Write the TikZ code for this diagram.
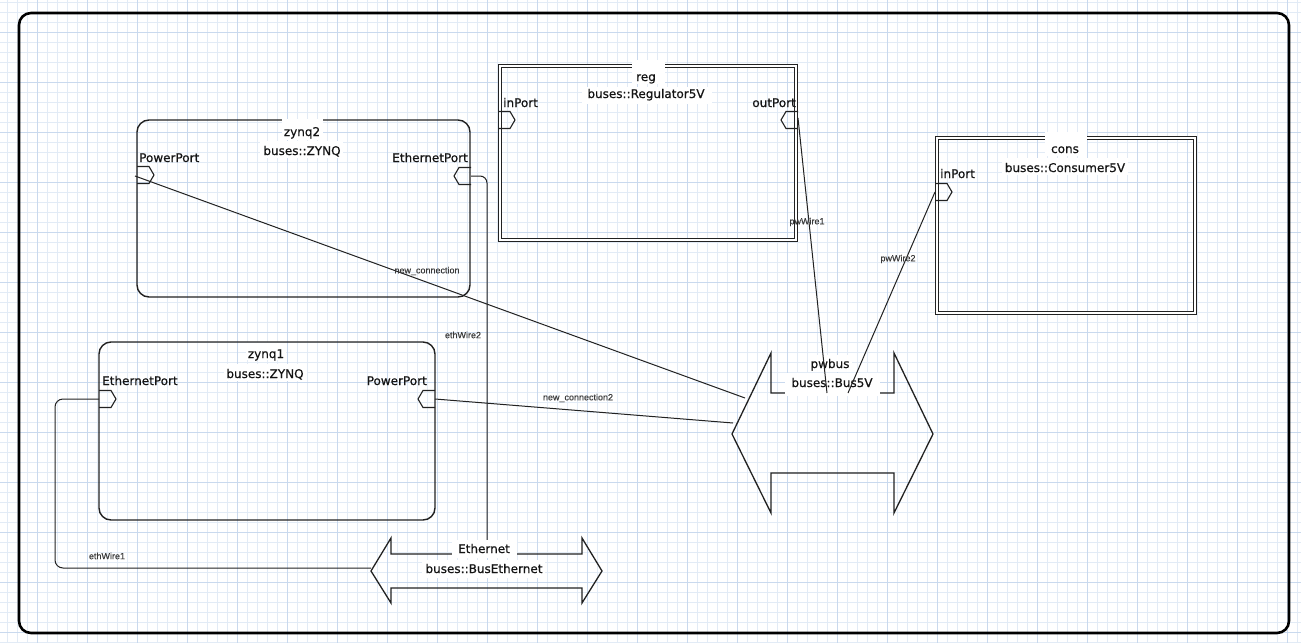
\documentclass[tikz,border=0pt]{standalone}
\usepackage{fontspec}
\setmainfont{DejaVu Sans}
\newfontfamily\titlefont{DejaVu Sans}[FakeBold=0.6]
\newfontfamily\wirefont{Liberation Sans}[FakeBold=0.3]
\definecolor{gridminor}{HTML}{E2EBF6}
\definecolor{gridmajor}{HTML}{C9D9EE}
\definecolor{ink}{HTML}{222222}
\definecolor{lblink}{HTML}{3A3A3A}
\begin{document}
\begin{tikzpicture}[x=1pt,y=-1pt,
  frame/.style={draw=black, line width=2.6pt, rounded corners=12pt},
  compbox/.style={draw=ink, line width=1.4pt, rounded corners=12pt, inner sep=0pt},
  dblbox/.style={draw=ink, line width=1.2pt, double=white, double distance=2.2pt, inner sep=0pt},
  busshape/.style={draw=ink, line width=1.3pt, line join=miter},
  wire/.style={draw=ink, line width=1pt},
  portline/.style={draw=ink, line width=1.1pt},
  titletxt/.style={font=\titlefont\fontsize{12}{14}\selectfont, text=black!92, inner sep=0pt, anchor=base},
  portwest/.style={font=\titlefont\fontsize{12}{14}\selectfont, text=black!92, inner sep=0pt, anchor=base west},
  porteast/.style={font=\titlefont\fontsize{12}{14}\selectfont, text=black!92, inner sep=0pt, anchor=base east},
  wirelbl/.style={font=\wirefont\fontsize{9}{10}\selectfont, text=lblink, inner sep=0pt},
  portr/.pic={\draw[portline] (0,-8.5) -- (12,-8.5) -- (17,0) -- (12,8.5) -- (0,8.5);},
  portl/.pic={\draw[portline] (0,-8.5) -- (-12,-8.5) -- (-17,0) -- (-12,8.5) -- (0,8.5);}
]
\useasboundingbox (0,0) rectangle (1301,643);
\fill[white] (0,0) rectangle (1301,643);
% grid
\foreach \x in {7,17,...,1297} \draw[gridminor, line width=0.8pt] (\x,0) -- (\x,643);
\foreach \y in {2,12,...,642} \draw[gridminor, line width=0.8pt] (0,\y) -- (1301,\y);
\foreach \x in {37,87,...,1287} \draw[gridmajor, line width=0.9pt] (\x,0) -- (\x,643);
\foreach \y in {32,82,...,632} \draw[gridmajor, line width=0.9pt] (0,\y) -- (1301,\y);
% frame
\draw[frame] (19,13) rectangle (1289,633);

% components
\node[dblbox, minimum width=296pt, minimum height=174pt] (reg) at (648,153) {};
\node[dblbox, minimum width=258pt, minimum height=175pt] (cons) at (1066,225.5) {};
\node[compbox, minimum width=333pt, minimum height=177pt] (zynq2) at (303.5,208.5) {};
\node[compbox, minimum width=336pt, minimum height=178pt] (zynq1) at (267,431) {};

% bus shapes
\draw[busshape] (771,473) -- (771,513) -- (732,434) -- (771,353) -- (771,393) -- (894,393) -- (894,353) -- (933,434) -- (894,513) -- (894,473) -- cycle;
\draw[busshape] (391,588) -- (391,603) -- (371,571) -- (391,538) -- (391,554) -- (582,554) -- (582,538) -- (602,571) -- (582,603) -- (582,588) -- cycle;

% ports
\pic at (498,120) {portr};
\pic at (798,120) {portl};
\pic at (137,175) {portr};
\pic at (471,176) {portl};
\pic at (99,399) {portr};
\pic at (435,399) {portl};
\pic at (935,192) {portr};

% connector end points
\coordinate (regout) at (798,118);
\coordinate (consin) at (935,192);
\coordinate (z2pp) at (135,176);
\coordinate (z2eth) at (471,176);
\coordinate (z1eth) at (99,399);
\coordinate (z1pp) at (435,399);
\coordinate (pwA) at (745,398);
\coordinate (pwB) at (733,423);
\coordinate (pwC) at (827,393);
\coordinate (pwD) at (848,393);
\coordinate (ethTop) at (487,554);
\coordinate (ethTip) at (371,568);

% wires drawn below titles
\draw[wire] (z2pp) -- (pwA);
\draw[wire] (z1pp) -- (pwB);
\draw[wire, rounded corners=7pt] (z2eth) -| (ethTop);
\draw[wire, rounded corners=8pt] (z1eth) -- (55,399) -- (55,568) -- (ethTip);

% title backgrounds
\fill[white] (632,60) rectangle (665,84);
\fill[white] (582,87) rectangle (712,104);
\fill[white] (282,119) rectangle (323,140);
\fill[white] (260,141) rectangle (343,158);
\fill[white] (246,343) rectangle (286,360);
\fill[white] (224,364) rectangle (307,381);
\fill[white] (1045,132) rectangle (1087,156);
\fill[white] (1002,158) rectangle (1128,175);
\fill[white] (808,355) rectangle (852,372);
\fill[white] (785,373) rectangle (880,396);
\fill[white] (452,540) rectangle (517,558);
\fill[white] (422,560) rectangle (545,578);

% titles
\node[titletxt] (regname) at (646,81) {reg};
\node[titletxt] (regtype) at (646,98) {buses::Regulator5V};
\node[portwest] (regin) at (503,107) {inPort};
\node[porteast] (regoutl) at (796,107) {outPort};

\node[titletxt] (z2name) at (302,136) {zynq2};
\node[titletxt] (z2type) at (302,155) {buses::ZYNQ};
\node[portwest] (z2ppl) at (139,162) {PowerPort};
\node[porteast] (z2ethl) at (468,162) {EthernetPort};

\node[titletxt] (z1name) at (266,358) {zynq1};
\node[titletxt] (z1type) at (265,378) {buses::ZYNQ};
\node[portwest] (z1ethl) at (102,385) {EthernetPort};
\node[porteast] (z1ppl) at (427,385) {PowerPort};

\node[titletxt] (consname) at (1065,153) {cons};
\node[titletxt] (constype) at (1065,172) {buses::Consumer5V};
\node[portwest] (consinl) at (940,178) {inPort};

\node[titletxt] (pwbus) at (830,368) {pwbus};
\node[titletxt] (pwbustype) at (832,387) {buses::Bus5V};

\node[titletxt] (eth) at (484,553) {Ethernet};
\node[titletxt] (ethtype) at (484,573) {buses::BusEthernet};

% wires drawn over titles
\draw[wire] (regout) -- (pwC);
\draw[wire] (consin) -- (pwD);

% wire labels
\node[wirelbl] (l1) at (427,271) {new\_connection};
\node[wirelbl] (l2) at (578,398) {new\_connection2};
\node[wirelbl] (l3) at (463,335) {ethWire2};
\node[wirelbl] (l4) at (107,556) {ethWire1};
\node[wirelbl] (l5) at (807,222) {pwWire1};
\node[wirelbl] (l6) at (898,259) {pwWire2};
\end{tikzpicture}
\end{document}
